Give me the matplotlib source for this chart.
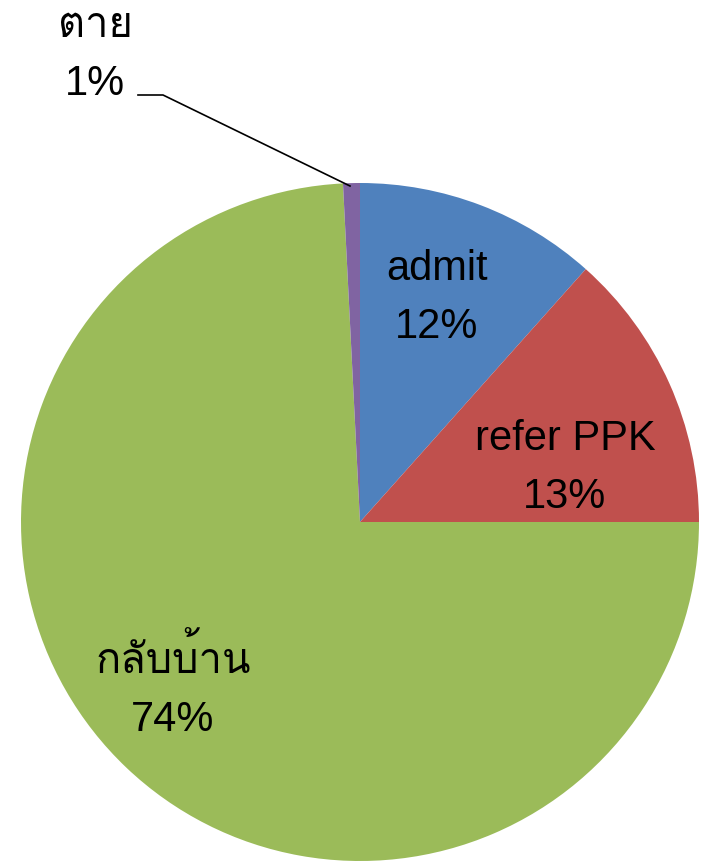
import matplotlib
matplotlib.use("Agg")
import matplotlib.pyplot as plt
from matplotlib import font_manager

categories = ["admit", "refer PPK", "กลับบ้าน", "ตาย"]
values = [11.6, 13.4, 74.2, 0.8]
colors = ["#4F81BD", "#C0504D", "#9BBB59", "#8064A2"]

# find a font that covers Thai
thai_font = None
try:
    from fontTools.ttLib import TTFont
    for f in font_manager.fontManager.ttflist:
        try:
            tt = TTFont(f.fname, fontNumber=0, lazy=True)
            cmap = tt.getBestCmap()
            if cmap and 0x0E01 in cmap and 0x0E32 in cmap:
                thai_font = f.name
                break
        except Exception:
            pass
except Exception:
    pass

families = ["Liberation Sans"]
if thai_font:
    families.append(thai_font)
families.append("DejaVu Sans")
plt.rcParams["font.family"] = families

W, H = 711, 865
fig = plt.figure(figsize=(W / 100, H / 100), dpi=100)
cx, cy, r = 360, 522, 339
ax = fig.add_axes([(cx - r) / W, (H - cy - r) / H, 2 * r / W, 2 * r / H])
ax.pie(values, colors=colors, startangle=90, counterclock=False,
       radius=1, wedgeprops=dict(linewidth=0))
ax.set_xlim(-1, 1)
ax.set_ylim(-1, 1)
ax.set_aspect("equal")
ax.axis("off")

def d(px, py):
    return ((px - cx) / r, (cy - py) / r)

total = sum(values)
pct = [round(v / total * 100) for v in values]
positions = [d(437, 298), d(565, 468), d(173, 688), d(95, 55)]
fs = 30
for name, p, pos in zip(categories, pct, positions):
    ax.text(pos[0], pos[1], f"{name}\n{p}%", ha="center", va="center",
            fontsize=fs, linespacing=1.55, color="black", clip_on=False)

# leader line for the small slice
p1, p2, p3 = d(138, 95), d(163, 95), d(350, 186)
ax.plot([p1[0], p2[0], p3[0]], [p1[1], p2[1], p3[1]], color="black",
        linewidth=1.2, clip_on=False)

fig.savefig("out.png", dpi=100)
